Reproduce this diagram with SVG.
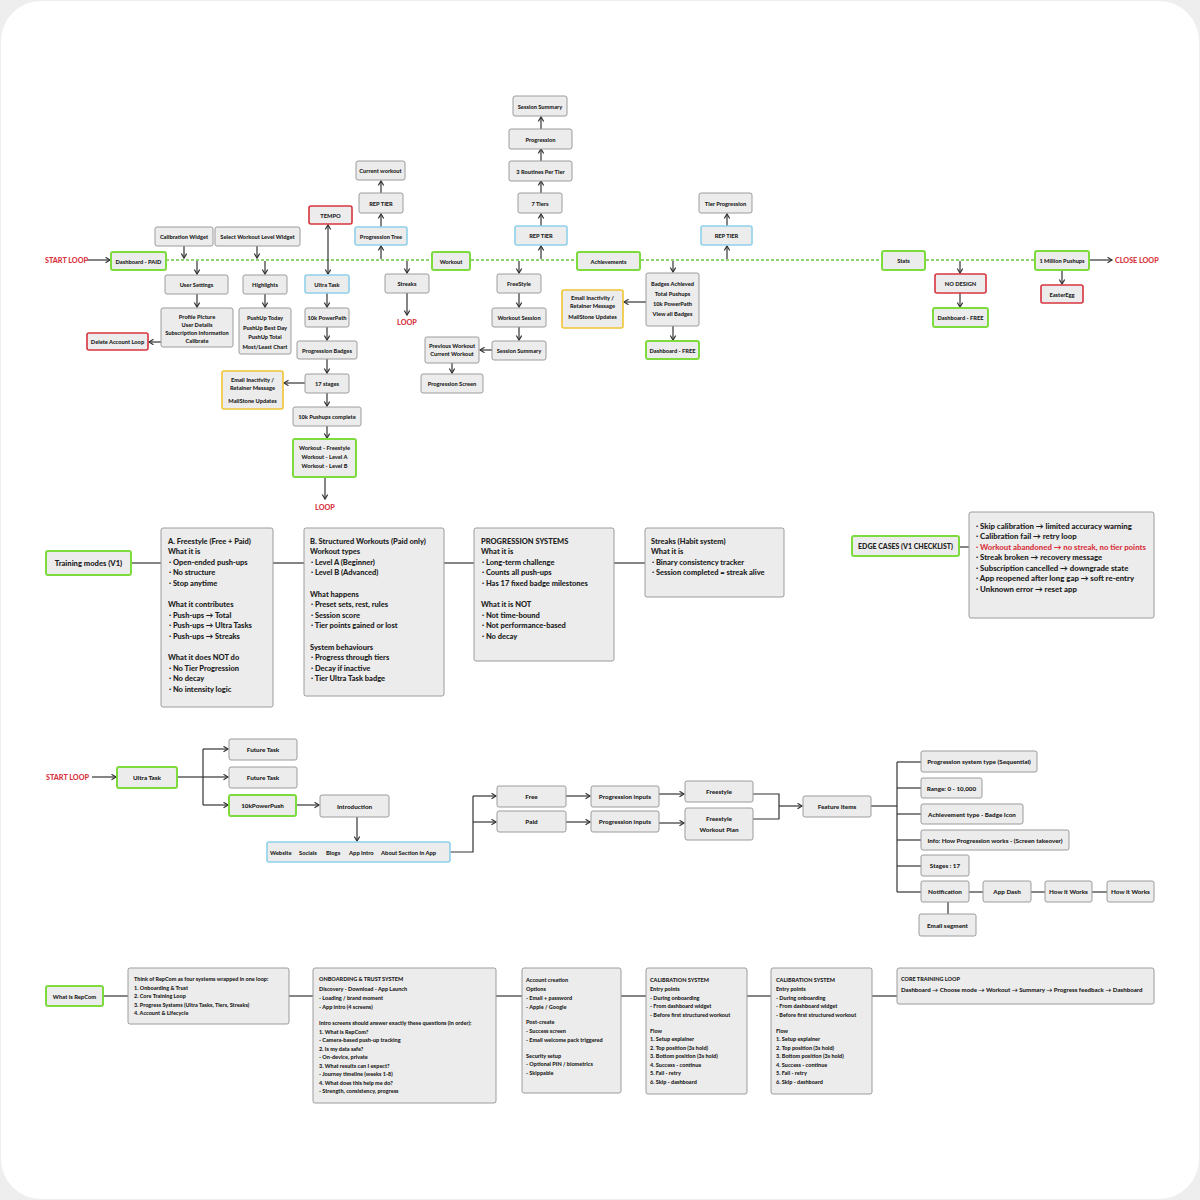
<svg xmlns="http://www.w3.org/2000/svg" width="1200" height="1200" viewBox="0 0 1200 1200">
<style>
text{font-family:Lato,"Open Sans","Liberation Sans",sans-serif;font-weight:900;fill:#222}
.n rect{fill:#ececec;stroke:#9c9c9c;stroke-width:1}
.g rect{stroke:#7edb3e;stroke-width:2}
.b rect{stroke:#8fd0ea;stroke-width:1.6}
.r rect{stroke:#d8343f;stroke-width:1.6}
.y rect{stroke:#f0c534;stroke-width:1.6}
.s text{font-size:5.7px;text-anchor:middle;dominant-baseline:central}
.m text{font-size:7.5px}
.m.c text{text-anchor:middle;dominant-baseline:central;font-size:7.6px}
.e text{font-size:7.8px}
.f text{font-size:6.3px;text-anchor:middle;dominant-baseline:central}
.f .lk{text-anchor:start;font-size:5.8px}
.k text{font-size:5.5px}
.lbl{font-size:7.2px;fill:#d8343f;dominant-baseline:central}
.red{fill:#d8343f}
#connectors line,#connectors polyline{stroke:#333;stroke-width:1.2;fill:none}
#connectors .a{marker-end:url(#arr)}
#connectors .dash{stroke:#6cc644;stroke-dasharray:3 2;stroke-width:1.3}
</style>
<defs>
<marker id="arr" markerUnits="userSpaceOnUse" markerWidth="8" markerHeight="8" refX="5" refY="3" orient="auto-start-reverse"><path d="M0.5,0.3 L5,3 L0.5,5.7" fill="none" stroke="#333" stroke-width="1.2"/></marker>
</defs>
<rect width="1200" height="1200" fill="#eeeeee"/>
<rect x="1" y="1" width="1198" height="1198" rx="40" fill="#ffffff"/>

<g id="connectors">
<line class="dash" x1="166" y1="260" x2="1035" y2="260"/>
<line class="a" x1="87" y1="260" x2="110" y2="260"/>
<line class="a" x1="184" y1="246" x2="184" y2="258"/>
<line class="a" x1="257" y1="246" x2="257" y2="258"/>
<line class="a" x1="197" y1="261" x2="197" y2="274"/>
<line class="a" x1="265" y1="261" x2="265" y2="274"/>
<line class="a" x1="197" y1="294" x2="197" y2="307"/>
<line class="a" x1="265" y1="294" x2="265" y2="307"/>
<line class="a" x1="161" y1="342" x2="149" y2="342"/>
<line class="a" x1="328" y1="274" x2="328" y2="225" style="marker-start:url(#arr)"/>
<line class="a" x1="327" y1="293" x2="327" y2="307"/>
<line class="a" x1="327" y1="327" x2="327" y2="340"/>
<line class="a" x1="327" y1="359" x2="327" y2="373"/>
<line class="a" x1="305" y1="383" x2="284" y2="383"/>
<line class="a" x1="327" y1="393" x2="327" y2="406"/>
<line class="a" x1="327" y1="426" x2="327" y2="438"/>
<line class="a" x1="325" y1="477" x2="325" y2="499"/>
<line class="a" x1="381" y1="259" x2="381" y2="246"/>
<line class="a" x1="381" y1="227" x2="381" y2="214"/>
<line class="a" x1="381" y1="193" x2="381" y2="181"/>
<line class="a" x1="407" y1="261" x2="407" y2="273"/>
<line class="a" x1="407" y1="293" x2="407" y2="315"/>
<line class="a" x1="541" y1="259" x2="541" y2="246"/>
<line class="a" x1="541" y1="226" x2="541" y2="214"/>
<line class="a" x1="541" y1="193" x2="541" y2="181"/>
<line class="a" x1="541" y1="161" x2="541" y2="149"/>
<line class="a" x1="541" y1="129" x2="541" y2="117"/>
<line class="a" x1="519" y1="261" x2="519" y2="273"/>
<line class="a" x1="519" y1="293" x2="519" y2="307"/>
<line class="a" x1="519" y1="327" x2="519" y2="340"/>
<line class="a" x1="492" y1="350" x2="480" y2="350"/>
<line class="a" x1="452" y1="363" x2="452" y2="373"/>
<line class="a" x1="673" y1="261" x2="673" y2="272"/>
<line class="a" x1="646" y1="302" x2="624" y2="302"/>
<line class="a" x1="673" y1="326" x2="673" y2="340"/>
<line class="a" x1="727" y1="259" x2="727" y2="246"/>
<line class="a" x1="727" y1="226" x2="727" y2="214"/>
<line class="a" x1="960" y1="261" x2="960" y2="273"/>
<line class="a" x1="960" y1="293" x2="960" y2="307"/>
<line class="a" x1="1062" y1="270" x2="1062" y2="284"/>
<line class="a" x1="1089" y1="260" x2="1112" y2="260"/>

<line x1="131" y1="563" x2="161" y2="563"/>
<line x1="273" y1="563" x2="304" y2="563"/>
<line x1="444" y1="563" x2="474" y2="563"/>
<line x1="614" y1="563" x2="645" y2="563"/>
<line x1="959" y1="547" x2="969" y2="547"/>

<line class="a" x1="92" y1="777" x2="116" y2="777"/>
<line x1="177" y1="777" x2="203" y2="777"/>
<line x1="203" y1="749" x2="203" y2="805"/>
<line class="a" x1="203" y1="749" x2="228" y2="749"/>
<line class="a" x1="203" y1="777" x2="228" y2="777"/>
<line class="a" x1="203" y1="805" x2="228" y2="805"/>
<line class="a" x1="296" y1="805" x2="319" y2="805"/>
<line class="a" x1="357" y1="817" x2="357" y2="841"/>
<polyline points="450,852 473,852 473,796"/>
<line class="a" x1="473" y1="796" x2="496" y2="796"/>
<line class="a" x1="473" y1="822" x2="496" y2="822"/>
<line class="a" x1="566" y1="796" x2="590" y2="796"/>
<line class="a" x1="566" y1="822" x2="590" y2="822"/>
<line class="a" x1="659" y1="794" x2="684" y2="794"/>
<line class="a" x1="659" y1="823" x2="684" y2="823"/>
<polyline points="753,794 779,794 779,819 753,819"/>
<line class="a" x1="779" y1="806" x2="802" y2="806"/>
<line x1="871" y1="806" x2="897" y2="806"/>
<line x1="897" y1="762" x2="897" y2="892"/>
<line x1="897" y1="762" x2="921" y2="762"/>
<line x1="897" y1="788" x2="921" y2="788"/>
<line x1="897" y1="814" x2="921" y2="814"/>
<line x1="897" y1="840" x2="921" y2="840"/>
<line x1="897" y1="866" x2="921" y2="866"/>
<line x1="897" y1="892" x2="921" y2="892"/>
<line x1="969" y1="892" x2="983" y2="892"/>
<line x1="1031" y1="892" x2="1045" y2="892"/>
<line x1="1092" y1="892" x2="1107" y2="892"/>
<line x1="948" y1="902" x2="948" y2="914"/>

<line x1="103" y1="996" x2="128" y2="996"/>
<line x1="289" y1="996" x2="313" y2="996"/>
<line x1="496" y1="996" x2="522" y2="996"/>
<line x1="621" y1="996" x2="646" y2="996"/>
<line x1="747" y1="996" x2="771" y2="996"/>
<line x1="872" y1="996" x2="897" y2="996"/>
</g>

<text class="lbl" x="45" y="260">START LOOP</text>
<text class="lbl" x="1115" y="260">CLOSE LOOP</text>
<text class="lbl" x="325" y="507" text-anchor="middle">LOOP</text>
<text class="lbl" x="407" y="322" text-anchor="middle">LOOP</text>
<text class="lbl" x="46" y="777">START LOOP</text>

<g class="s">
<g id="dash-paid" class="n g"><rect x="111" y="252" width="55" height="18" rx="2"/><text x="138.5" y="261">Dashboard - PAID</text></g>
<g id="calib-widget" class="n"><rect x="155" y="227" width="58" height="19" rx="2"/><text x="184" y="236.5">Calibration Widget</text></g>
<g id="select-widget" class="n"><rect x="215" y="227" width="85" height="19" rx="2"/><text x="257.5" y="236.5">Select Workout Level Widget</text></g>
<g id="user-settings" class="n"><rect x="165" y="275" width="63" height="19" rx="2"/><text x="196.5" y="284.5">User Settings</text></g>
<g id="highlights" class="n"><rect x="243" y="275" width="44" height="19" rx="2"/><text x="265" y="284.5">Highlights</text></g>
<g id="profile" class="n"><rect x="161" y="308" width="72" height="39" rx="2"/><text x="197" y="316.5">Profile Picture</text><text x="197" y="324.5">User Details</text><text x="197" y="332.5">Subscription Information</text><text x="197" y="340.5">Calibrate</text></g>
<g id="delete-account" class="n r"><rect x="87" y="333" width="61" height="17" rx="2"/><text x="117.5" y="341.5">Delete Account Loop</text></g>
<g id="pushup-stats" class="n"><rect x="239" y="308" width="52" height="46" rx="2"/><text x="265" y="317">PushUp Today</text><text x="265" y="327">PushUp Best Day</text><text x="265" y="336.5">PushUp Total</text><text x="265" y="346">Most/Least Chart</text></g>
<g id="tempo" class="n r"><rect x="309" y="206" width="43" height="18" rx="2"/><text x="330.5" y="215">TEMPO</text></g>
<g id="ultra-task" class="n b"><rect x="305" y="275" width="44" height="18" rx="2"/><text x="327" y="284">Ultra Task</text></g>
<g id="powerpath" class="n"><rect x="305" y="308" width="44" height="19" rx="2"/><text x="327" y="317.5">10k PowerPath</text></g>
<g id="progression-badges" class="n"><rect x="297" y="341" width="60" height="18" rx="2"/><text x="327" y="350">Progression Badges</text></g>
<g id="stages-17" class="n"><rect x="305" y="374" width="44" height="19" rx="2"/><text x="327" y="383.5">17 stages</text></g>
<g id="email-1" class="n y"><rect x="222" y="371" width="61" height="38" rx="2"/><text x="252.5" y="379.5">Email Inactivity /</text><text x="252.5" y="387.5">Retainer Message</text><text x="252.5" y="400">MailStone Updates</text></g>
<g id="pushups-complete" class="n"><rect x="293" y="407" width="68" height="19" rx="2"/><text x="327" y="416.5">10k Pushups complete</text></g>
<g id="workout-levels" class="n g"><rect x="293" y="439" width="63" height="38" rx="2"/><text x="324.5" y="447.5">Workout - Freestyle</text><text x="324.5" y="456.5">Workout - Level A</text><text x="324.5" y="465">Workout - Level B</text></g>
<g id="progression-tree" class="n b"><rect x="355" y="227" width="52" height="18" rx="2"/><text x="381" y="236">Progression Tree</text></g>
<g id="rep-tier-1" class="n"><rect x="359" y="193" width="44" height="20" rx="2"/><text x="381" y="203">REP TIER</text></g>
<g id="current-workout" class="n"><rect x="356" y="161" width="49" height="19" rx="2"/><text x="380.5" y="170.5">Current workout</text></g>
<g id="streaks" class="n"><rect x="385" y="274" width="44" height="19" rx="2"/><text x="407" y="283.5">Streaks</text></g>
<g id="workout" class="n g"><rect x="432" y="252" width="38" height="18" rx="2"/><text x="451" y="261">Workout</text></g>
<g id="session-summary-top" class="n"><rect x="513" y="96" width="54" height="20" rx="2"/><text x="540" y="106">Session Summary</text></g>
<g id="progression" class="n"><rect x="509" y="129" width="63" height="20" rx="2"/><text x="540.5" y="139">Progression</text></g>
<g id="routines" class="n"><rect x="509" y="161" width="63" height="20" rx="2"/><text x="540.5" y="171">3 Routines Per Tier</text></g>
<g id="tiers-7" class="n"><rect x="518" y="193" width="44" height="20" rx="2"/><text x="540" y="203">7 Tiers</text></g>
<g id="rep-tier-2" class="n b"><rect x="515" y="226" width="52" height="19" rx="2"/><text x="541" y="235.5">REP TIER</text></g>
<g id="freestyle" class="n"><rect x="497" y="274" width="44" height="19" rx="2"/><text x="519" y="283.5">FreeStyle</text></g>
<g id="workout-session" class="n"><rect x="492" y="308" width="54" height="19" rx="2"/><text x="519" y="317.5">Workout Session</text></g>
<g id="session-summary" class="n"><rect x="492" y="341" width="54" height="19" rx="2"/><text x="519" y="350.5">Session Summary</text></g>
<g id="previous-workout" class="n"><rect x="425" y="337" width="54" height="26" rx="2"/><text x="452" y="345.5">Previous Workout</text><text x="452" y="353.5">Current Workout</text></g>
<g id="progression-screen" class="n"><rect x="421" y="374" width="62" height="19" rx="2"/><text x="452" y="383.5">Progression Screen</text></g>
<g id="achievements" class="n g"><rect x="577" y="252" width="63" height="18" rx="2"/><text x="608.5" y="261">Achievements</text></g>
<g id="badges" class="n"><rect x="646" y="273" width="53" height="53" rx="2"/><text x="672.5" y="283.5">Badges Achieved</text><text x="672.5" y="293.5">Total Pushups</text><text x="672.5" y="303.5">10k PowerPath</text><text x="672.5" y="313.5">View all Badges</text></g>
<g id="email-2" class="n y"><rect x="562" y="290" width="61" height="38" rx="2"/><text x="592.5" y="297.5">Email Inactivity /</text><text x="592.5" y="305.5">Retainer Message</text><text x="592.5" y="316">MailStone Updates</text></g>
<g id="dashboard-free-1" class="n g"><rect x="646" y="341" width="53" height="18" rx="2"/><text x="672.5" y="350">Dashboard - FREE</text></g>
<g id="rep-tier-3" class="n b"><rect x="701" y="226" width="51" height="19" rx="2"/><text x="726.5" y="235.5">REP TIER</text></g>
<g id="tier-progression" class="n"><rect x="699" y="193" width="53" height="20" rx="2"/><text x="725.5" y="203">Tier Progression</text></g>
<g id="stats" class="n g"><rect x="882" y="251" width="43" height="19" rx="2"/><text x="903.5" y="260.5">Stats</text></g>
<g id="no-design" class="n r"><rect x="935" y="274" width="51" height="19" rx="2"/><text x="960.5" y="283.5">NO DESIGN</text></g>
<g id="dashboard-free-2" class="n g"><rect x="933" y="308" width="55" height="19" rx="2"/><text x="960.5" y="317.5">Dashboard - FREE</text></g>
<g id="million-pushups" class="n g"><rect x="1035" y="251" width="54" height="19" rx="2"/><text x="1062" y="260.5">1 Million Pushups</text></g>
<g id="easteregg" class="n r"><rect x="1041" y="285" width="42" height="18" rx="2"/><text x="1062" y="294">EasterEgg</text></g>
</g>

<g class="m c"><g id="training-modes" class="n g"><rect x="46" y="551" width="85" height="24" rx="2"/><text x="88.5" y="563">Training modes (V1)</text></g></g>
<g class="m">
<g id="freestyle-mode" class="n"><rect x="161" y="528" width="112" height="179" rx="2"/>
<text x="168" y="543.5">A. Freestyle (Free + Paid)</text>
<text x="168" y="554">What it is</text>
<text x="169" y="564.5"> · Open-ended push-ups</text>
<text x="169" y="575"> · No structure</text>
<text x="169" y="585.5"> · Stop anytime</text>
<text x="168" y="607">What it contributes</text>
<text x="169" y="617.5"> · Push-ups → Total</text>
<text x="169" y="628"> · Push-ups → Ultra Tasks</text>
<text x="169" y="638.5"> · Push-ups → Streaks</text>
<text x="168" y="660">What it does NOT do</text>
<text x="169" y="670.5"> · No Tier Progression</text>
<text x="169" y="681"> · No decay</text>
<text x="169" y="691.5"> · No intensity logic</text>
</g>
<g id="structured-workouts" class="n"><rect x="304" y="528" width="140" height="168" rx="2"/>
<text x="310" y="543.5">B. Structured Workouts (Paid only)</text>
<text x="310" y="554">Workout types</text>
<text x="311" y="564.5"> · Level A (Beginner)</text>
<text x="311" y="575"> · Level B (Advanced)</text>
<text x="310" y="596.5">What happens</text>
<text x="311" y="607"> · Preset sets, rest, rules</text>
<text x="311" y="617.5"> · Session score</text>
<text x="311" y="628"> · Tier points gained or lost</text>
<text x="310" y="649.5">System behaviours</text>
<text x="311" y="660"> · Progress through tiers</text>
<text x="311" y="670.5"> · Decay if inactive</text>
<text x="311" y="681"> · Tier Ultra Task badge</text>
</g>
<g id="progression-systems" class="n"><rect x="474" y="528" width="140" height="133" rx="2"/>
<text x="481" y="543.5">PROGRESSION SYSTEMS</text>
<text x="481" y="554">What it is</text>
<text x="482" y="564.5"> · Long-term challenge</text>
<text x="482" y="575"> · Counts all push-ups</text>
<text x="482" y="585.5"> · Has 17 fixed badge milestones</text>
<text x="481" y="607">What it is NOT</text>
<text x="482" y="617.5"> · Not time-bound</text>
<text x="482" y="628"> · Not performance-based</text>
<text x="482" y="638.5"> · No decay</text>
</g>
<g id="streaks-habit" class="n"><rect x="645" y="528" width="139" height="69" rx="2"/>
<text x="651" y="543.5">Streaks (Habit system)</text>
<text x="651" y="554">What it is</text>
<text x="652" y="564.5"> · Binary consistency tracker</text>
<text x="652" y="575"> · Session completed = streak alive</text>
</g>
</g>
<g class="m c"><g id="edge-cases" class="n g"><rect x="852" y="536" width="107" height="20" rx="2"/><text x="905.5" y="546" style="font-size:7px">EDGE CASES (V1 CHECKLIST)</text></g></g>
<g class="e">
<g id="edge-list" class="n"><rect x="969" y="512" width="185" height="106" rx="2"/>
<text x="976" y="528.5"> · Skip calibration → limited accuracy warning</text>
<text x="976" y="539"> · Calibration fail → retry loop</text>
<text x="976" y="549.5" class="red"> · Workout abandoned → no streak, no tier points</text>
<text x="976" y="560"> · Streak broken → recovery message</text>
<text x="976" y="570.5"> · Subscription cancelled → downgrade state</text>
<text x="976" y="581"> · App reopened after long gap → soft re-entry</text>
<text x="976" y="591.5"> · Unknown error → reset app</text>
</g>
</g>

<g class="f">
<g id="ultra-task-2" class="n g"><rect x="117" y="767" width="60" height="21" rx="2"/><text x="147" y="777.5">Ultra Task</text></g>
<g id="future-task-1" class="n"><rect x="229" y="739" width="68" height="21" rx="2"/><text x="263" y="749.5">Future Task</text></g>
<g id="future-task-2" class="n"><rect x="229" y="767" width="68" height="21" rx="2"/><text x="263" y="777.5">Future Task</text></g>
<g id="tenk-powerpush" class="n g"><rect x="229" y="795" width="67" height="21" rx="2"/><text x="262.5" y="805.5">10kPowerPush</text></g>
<g id="introduction" class="n"><rect x="320" y="795" width="69" height="22" rx="2"/><text x="354.5" y="806">Introduction</text></g>
<g id="intro-channels" class="n b"><rect x="267" y="842" width="183" height="20" rx="2"/><text class="lk" x="270" y="852">Website</text><text class="lk" x="299" y="852">Socials</text><text class="lk" x="326" y="852">Blogs</text><text class="lk" x="349" y="852">App Intro</text><text class="lk" x="381" y="852">About Section in App</text></g>
<g id="free" class="n"><rect x="497" y="786" width="69" height="21" rx="2"/><text x="531.5" y="796.5">Free</text></g>
<g id="paid" class="n"><rect x="497" y="811" width="69" height="21" rx="2"/><text x="531.5" y="821.5">Paid</text></g>
<g id="progression-inputs-1" class="n"><rect x="591" y="786" width="68" height="21" rx="2"/><text x="625" y="796.5">Progression inputs</text></g>
<g id="progression-inputs-2" class="n"><rect x="591" y="811" width="68" height="21" rx="2"/><text x="625" y="821.5">Progression inputs</text></g>
<g id="freestyle-2" class="n"><rect x="685" y="781" width="68" height="21" rx="2"/><text x="719" y="791.5">Freestyle</text></g>
<g id="freestyle-plan" class="n"><rect x="685" y="808" width="68" height="32" rx="2"/><text x="719" y="818">Freestyle</text><text x="719" y="829.5">Workout Plan</text></g>
<g id="feature-items" class="n"><rect x="803" y="796" width="68" height="21" rx="2"/><text x="837" y="806.5">Feature Items</text></g>
<g id="prog-system-type" class="n"><rect x="921" y="751" width="116" height="21" rx="2"/><text x="979" y="761.5">Progression system type (Sequential)</text></g>
<g id="range" class="n"><rect x="921" y="778" width="61" height="20" rx="2"/><text x="951.5" y="788">Range: 0 - 10,000</text></g>
<g id="achievement-type" class="n"><rect x="921" y="804" width="102" height="20" rx="2"/><text x="972" y="814">Achievement type - Badge Icon</text></g>
<g id="info-progression" class="n"><rect x="921" y="830" width="148" height="20" rx="2"/><text x="995" y="840">Info: How Progression works - (Screen takeover)</text></g>
<g id="stages" class="n"><rect x="921" y="855" width="48" height="21" rx="2"/><text x="945" y="865.5">Stages : 17</text></g>
<g id="notification" class="n"><rect x="921" y="881" width="48" height="21" rx="2"/><text x="945" y="891.5">Notification</text></g>
<g id="app-dash" class="n"><rect x="983" y="881" width="48" height="21" rx="2"/><text x="1007" y="891.5">App Dash</text></g>
<g id="how-it-works-1" class="n"><rect x="1045" y="881" width="47" height="21" rx="2"/><text x="1068.5" y="891.5">How it Works</text></g>
<g id="how-it-works-2" class="n"><rect x="1107" y="881" width="47" height="21" rx="2"/><text x="1130.5" y="891.5">How it Works</text></g>
<g id="email-segment" class="n"><rect x="919" y="914" width="57" height="22" rx="2"/><text x="947.5" y="925">Email segment</text></g>
</g>

<g class="f"><g id="what-is-repcom" class="n g"><rect x="46" y="986" width="57" height="20" rx="2"/><text x="74.5" y="996" style="font-size:5.8px">What is RepCom</text></g></g>
<g class="k">
<g id="four-systems" class="n"><rect x="128" y="968" width="161" height="56" rx="2"/>
<text x="134" y="981">Think of RepCom as four systems wrapped in one loop:</text>
<text x="134" y="989.5"> 1. Onboarding &amp; Trust</text>
<text x="134" y="998"> 2. Core Training Loop</text>
<text x="134" y="1006.5"> 3. Progress Systems (Ultra Tasks, Tiers, Streaks)</text>
<text x="134" y="1015"> 4. Account &amp; Lifecycle</text>
</g>
<g id="onboarding" class="n"><rect x="313" y="968" width="183" height="135" rx="2"/>
<text x="319" y="981">ONBOARDING &amp; TRUST SYSTEM</text>
<text x="319" y="991">Discovery - Download - App Launch</text>
<text x="319" y="1000"> - Loading / brand moment</text>
<text x="319" y="1008.5"> - App intro (4 screens)</text>
<text x="319" y="1025">Intro screens should answer exactly these questions (in order):</text>
<text x="319" y="1033.5"> 1. What is RepCom?</text>
<text x="319" y="1042"> - Camera-based push-up tracking</text>
<text x="319" y="1050.5"> 2. Is my data safe?</text>
<text x="319" y="1059"> - On-device, private</text>
<text x="319" y="1067.5"> 3. What results can I expect?</text>
<text x="319" y="1076"> - Journey timeline (weeks 1-8)</text>
<text x="319" y="1084.5"> 4. What does this help me do?</text>
<text x="319" y="1093"> - Strength, consistency, progress</text>
</g>
<g id="account-creation" class="n"><rect x="522" y="968" width="99" height="125" rx="2"/>
<text x="526" y="981.5">Account creation</text>
<text x="526" y="991">Options</text>
<text x="526" y="999.5"> - Email + password</text>
<text x="526" y="1008.5"> - Apple / Google</text>
<text x="526" y="1024">Post-create</text>
<text x="526" y="1033"> - Success screen</text>
<text x="526" y="1042"> - Email welcome pack triggered</text>
<text x="526" y="1057.5">Security setup</text>
<text x="526" y="1066"> - Optional PIN / biometrics</text>
<text x="526" y="1074.5"> - Skippable</text>
</g>
<g id="calibration-1" class="n"><rect x="646" y="968" width="101" height="126" rx="2"/>
<text x="650" y="981.5">CALIBRATION SYSTEM</text>
<text x="650" y="991">Entry points</text>
<text x="650" y="999.5"> - During onboarding</text>
<text x="650" y="1008"> - From dashboard widget</text>
<text x="650" y="1016.5"> - Before first structured workout</text>
<text x="650" y="1033">Flow</text>
<text x="650" y="1041">1. Setup explainer</text>
<text x="650" y="1049.5">2. Top position (3s hold)</text>
<text x="650" y="1058">3. Bottom position (3s hold)</text>
<text x="650" y="1066.5">4. Success - continue</text>
<text x="650" y="1075">5. Fail - retry</text>
<text x="650" y="1083.5">6. Skip - dashboard</text>
</g>
<g id="calibration-2" class="n"><rect x="771" y="968" width="101" height="126" rx="2"/>
<text x="776" y="981.5">CALIBRATION SYSTEM</text>
<text x="776" y="991">Entry points</text>
<text x="776" y="999.5"> - During onboarding</text>
<text x="776" y="1008"> - From dashboard widget</text>
<text x="776" y="1016.5"> - Before first structured workout</text>
<text x="776" y="1033">Flow</text>
<text x="776" y="1041">1. Setup explainer</text>
<text x="776" y="1049.5">2. Top position (3s hold)</text>
<text x="776" y="1058">3. Bottom position (3s hold)</text>
<text x="776" y="1066.5">4. Success - continue</text>
<text x="776" y="1075">5. Fail - retry</text>
<text x="776" y="1083.5">6. Skip - dashboard</text>
</g>
<g id="core-training-loop" class="n"><rect x="897" y="968" width="257" height="36" rx="2"/>
<text x="901" y="981">CORE TRAINING LOOP</text>
<text x="901" y="991.5" style="font-size:6.1px">Dashboard → Choose mode → Workout → Summary → Progress feedback → Dashboard</text>
</g>
</g>
</svg>
